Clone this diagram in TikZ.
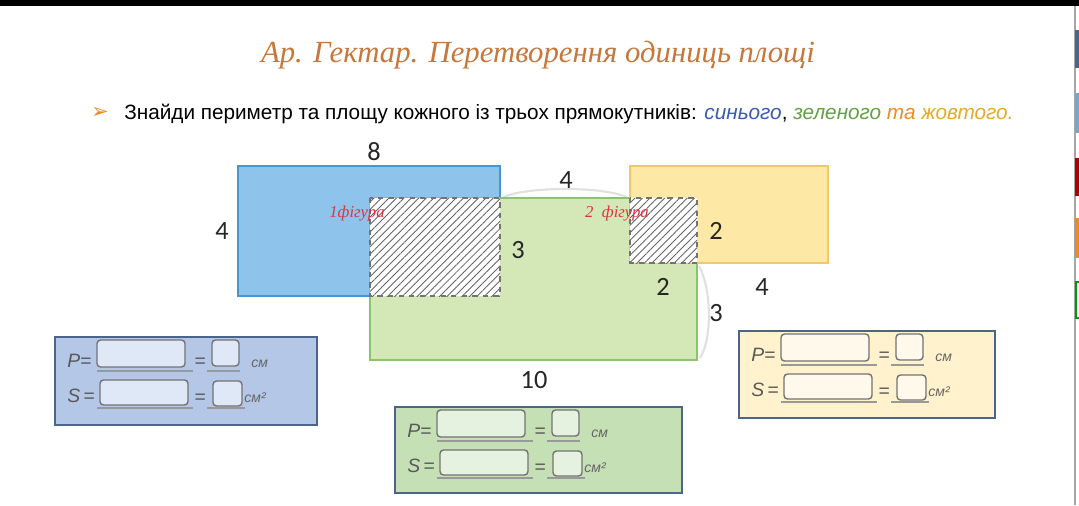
\documentclass[tikz,border=0pt]{standalone}
\usepackage{fontspec}
\setmainfont{Liberation Sans}
\newfontfamily\titlefont{Liberation Serif}
\newfontfamily\numfont{Carlito}
\newfontfamily\symfont{DejaVu Sans}
\usetikzlibrary{patterns.meta}
\definecolor{titlebrown}{RGB}{200,118,58}
\definecolor{rectblue}{RGB}{142,196,236}
\definecolor{rectblueline}{RGB}{70,150,210}
\definecolor{rectgreen}{RGB}{212,231,182}
\definecolor{rectgreenline}{RGB}{140,195,110}
\definecolor{rectyellow}{RGB}{253,232,165}
\definecolor{rectyellowline}{RGB}{240,200,100}
\definecolor{cardblue}{RGB}{180,199,231}
\definecolor{cardgreen}{RGB}{197,224,180}
\definecolor{cardyellow}{RGB}{255,242,204}
\definecolor{cardline}{RGB}{75,100,140}
\definecolor{inblue}{RGB}{222,232,246}
\definecolor{ingreen}{RGB}{230,242,224}
\definecolor{inyellow}{RGB}{255,249,236}
\definecolor{figred}{RGB}{222,52,62}
\definecolor{wblue}{RGB}{60,90,180}
\definecolor{wgreen}{RGB}{100,160,70}
\definecolor{worange}{RGB}{232,140,40}
\definecolor{wyellow}{RGB}{228,170,40}
\begin{document}
\begin{tikzpicture}[x=0.02cm, y=-0.02cm,
    every node/.style={inner sep=0pt},
    num/.style={font=\numfont\fontsize{15}{15}\selectfont, text=black!85},
    figlabel/.style={font=\titlefont\itshape\fontsize{9.5}{9.5}\selectfont, text=figred},
    formtxt/.style={font=\itshape\fontsize{11}{11}\selectfont, text=black!65},
    unit/.style={font=\itshape\fontsize{8}{8}\selectfont, text=black!60},
    inbox/.style={draw=black!55, line width=0.8pt, rounded corners=2pt},
    uline/.style={draw=black!40, line width=0.6pt},
    hatch/.style={pattern={Lines[angle=45,distance=3pt,line width=0.5pt]}, pattern color=black!60},
    faint/.style={draw=black!12, line width=1.2pt}]
    \useasboundingbox (0,0) rectangle (1079,505);
    \fill[white] (0,0) rectangle (1079,505);
    \fill[black] (0,0) rectangle (1079,6);

    % side tabs
    \draw[black!35, line width=1.5pt] (1075,6) -- (1075,505);
    \fill[cardline] (1075,30) rectangle (1079,68);
    \fill[rectblue!85!black] (1075,93) rectangle (1079,133);
    \fill[red!70!black] (1075,158) rectangle (1079,196);
    \fill[worange] (1075,218) rectangle (1079,258);
    \draw[green!60!black, line width=1pt] (1076,282) rectangle (1080,318);

    % heading
    \node[font=\titlefont\itshape\fontsize{17.5}{17.5}\selectfont, text=titlebrown] (title) at (538,55) {Ар. Гектар. Перетворення одиниць площі};
    \node[text=worange, font=\symfont\fontsize{12}{12}\selectfont] (bullet) at (100,113) {➢};
    \node[anchor=base west, font=\fontsize{11.8}{11.8}\selectfont] (task) at (124,119)
        {Знайди периметр та площу кожного із трьох прямокутників: {\itshape\color{wblue}синього}, {\itshape\color{wgreen}зеленого} {\itshape\color{worange}та} {\itshape\color{wyellow}жовтого.}};

    % rectangles
    \draw[faint] (502,198) .. controls (522,186) and (608,186) .. (628,198);
    \draw[faint] (699,266) .. controls (712,290) and (712,340) .. (700,358);
    \draw[fill=rectblue, draw=rectblueline, line width=1pt] (238,166) rectangle (500,296);
    \draw[fill=rectgreen, draw=rectgreenline, line width=1pt] (370,198) rectangle (697,360);
    \draw[fill=rectyellow, draw=rectyellowline, line width=1pt] (630,166) rectangle (828,263);
    \fill[white] (370,198) rectangle (500,296);
    \path[hatch] (370,198) rectangle (500,296);
    \draw[dashed, black!55, line width=0.7pt] (370,198) rectangle (500,296);
    \fill[white] (630,198) rectangle (697,263);
    \path[hatch] (630,198) rectangle (697,263);
    \draw[dashed, black!55, line width=0.7pt] (630,198) rectangle (697,263);

    % side lengths
    \node[num] (blue-top) at (374,152) {8};
    \node[num] (blue-left) at (222,231) {4};
    \node[num] (over-h) at (518,250) {3};
    \node[num] (gap-w) at (566,180) {4};
    \node[num] (yellow-h) at (716,231) {2};
    \node[num] (over-w) at (663,287) {2};
    \node[num] (yellow-w) at (762,287) {4};
    \node[num] (green-rest) at (716,313) {3};
    \node[num] (green-w) at (534,380) {10};
    \node[figlabel] (fig1) at (357,214) {1фігура};
    \node[figlabel] (fig2) at (617,214) {2\ \ фігура};

    % answer cards
    \foreach \n/\cx/\cy/\w/\h/\cf/\ci in {blue/55/337/262/88/cardblue/inblue,
        green/395/407/287/86/cardgreen/ingreen, yellow/739/331/256/87/cardyellow/inyellow}{
        \draw[fill=\cf, draw=cardline, line width=1pt] (\cx,\cy) rectangle ++(\w,\h);
        \draw[uline] (\cx+42,\cy+34) -- (\cx+138,\cy+34);
        \draw[uline] (\cx+152,\cy+34) -- (\cx+185,\cy+34);
        \draw[uline] (\cx+42,\cy+71) -- (\cx+138,\cy+71);
        \draw[uline] (\cx+152,\cy+71) -- (\cx+190,\cy+71);
        \draw[inbox, fill=\ci] (\cx+42,\cy+3) rectangle (\cx+130,\cy+30);
        \draw[inbox, fill=\ci] (\cx+157,\cy+3) rectangle (\cx+184,\cy+29);
        \draw[inbox, fill=\ci] (\cx+45,\cy+43) rectangle (\cx+133,\cy+68);
        \draw[inbox, fill=\ci] (\cx+158,\cy+44) rectangle (\cx+187,\cy+69);
        \node[formtxt, anchor=base west] (\n-p) at (\cx+12,\cy+30) {P=};
        \node[formtxt] (\n-eq1) at (\cx+145,\cy+26) {=};
        \node[unit, anchor=base west] (\n-cm) at (\cx+196,\cy+30) {см};
        \node[formtxt, anchor=base west] (\n-s) at (\cx+12,\cy+65) {S\,=};
        \node[formtxt] (\n-eq2) at (\cx+145,\cy+62) {=};
        \node[unit, anchor=base west] (\n-cm2) at (\cx+189,\cy+65) {см²};
    }
\end{tikzpicture}
\end{document}
